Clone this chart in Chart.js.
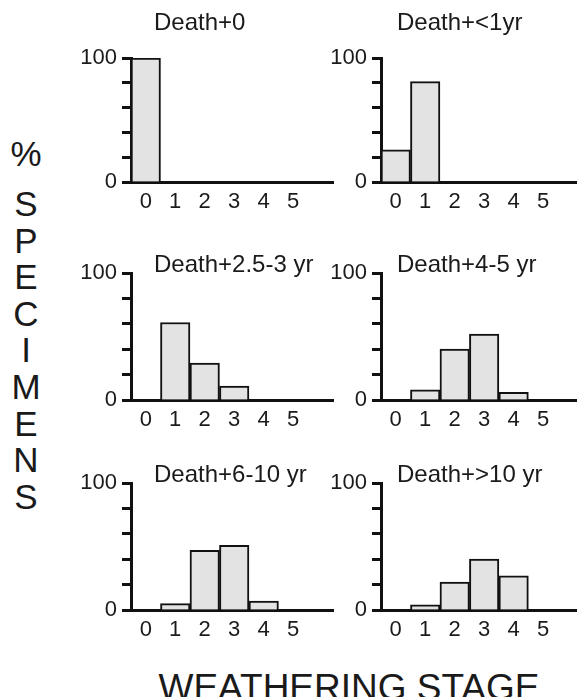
<!DOCTYPE html>
<html>
<head>
<meta charset="utf-8">
<title>Weathering stage by time since death</title>
<script src="https://cdn.jsdelivr.net/npm/chart.js@4.4.1/dist/chart.umd.min.js"></script>
<style>
  body { margin: 0; background: #fff; }
  #page {
    position: relative; width: 577px; height: 697px; overflow: hidden;
    font-family: "Liberation Sans", Arial, sans-serif; color: #1a1a1a;
  }
  #page canvas { position: absolute; }
  #yTitle {
    position: absolute; left: 8px; top: 121px; width: 36px;
    text-align: center; font-size: 35px; line-height: 36.6px;
  }
  #yTitle .pct { line-height: 65px; }
  #xTitle {
    position: absolute; left: 349px; top: 669px; transform: translateX(-50%);
    font-size: 37px; line-height: 37px; white-space: nowrap;
  }
</style>
</head>
<body>
<div id="page">
  <div id="yTitle"><div class="pct">%</div>S<br>P<br>E<br>C<br>I<br>M<br>E<br>N<br>S</div>
  <canvas id="c1" width="280" height="230" style="left:60px;top:0px"></canvas>
  <canvas id="c2" width="252" height="230" style="left:325px;top:0px"></canvas>
  <canvas id="c3" width="280" height="210" style="left:60px;top:230px"></canvas>
  <canvas id="c4" width="252" height="210" style="left:325px;top:230px"></canvas>
  <canvas id="c5" width="280" height="220" style="left:60px;top:440px"></canvas>
  <canvas id="c6" width="252" height="220" style="left:325px;top:440px"></canvas>
  <div id="xTitle">WEATHERING STAGE</div>
</div>
<script>
// weathering stages on the x axis
const stages = [0, 1, 2, 3, 4, 5];
const yTicks = [0, 100];

const titles = [
  "Death+0",
  "Death+<1yr",
  "Death+2.5-3 yr",
  "Death+4-5 yr",
  "Death+6-10 yr",
  "Death+>10 yr",
];

// % of specimens at each stage
const death0 = [100, 0, 0, 0, 0, 0];
const deathUnder1 = [26, 81, 0, 0, 0, 0];
const death2to3 = [0, 61, 29, 11, 0, 0];
const death4to5 = [0, 8, 40, 52, 6, 0];
const death6to10 = [0, 5, 47, 51, 7, 0];
const deathOver10 = [0, 4, 22, 40, 27, 0];

const seriesList = [death0, deathUnder1, death2to3, death4to5, death6to10, deathOver10];

Chart.defaults.font.family = "'Liberation Sans', Arial, sans-serif";
Chart.defaults.color = "#1a1a1a";

// panel title, left aligned just inside the plot
const panelTitle = {
  id: "panelTitle",
  afterDraw(chart, args, opts) {
    const { ctx, chartArea } = chart;
    ctx.save();
    ctx.font = "24px 'Liberation Sans', Arial, sans-serif";
    ctx.fillStyle = "#1a1a1a";
    ctx.textAlign = "left";
    ctx.textBaseline = "middle";
    ctx.fillText(opts.text, chartArea.left + opts.dx, chartArea.top - opts.dy);
    ctx.restore();
  },
};

const sides = {
  left: { axisWidth: 71, padRight: 7, xMax: 6.35, dx: 23 },
  right: { axisWidth: 56, padRight: 0, xMax: 6.15, dx: 16 },
};
const rows = [
  { padTop: 58, padBottom: 8, dy: 35 },
  { padTop: 43, padBottom: 0, dy: 8 },
  { padTop: 43, padBottom: 10, dy: 8 },
];

function makePanel(index) {
  const side = sides[index % 2 === 0 ? "left" : "right"];
  const row = rows[Math.floor(index / 2)];
  const values = seriesList[index];
  const ctx = document.getElementById("c" + (index + 1)).getContext("2d");

  return new Chart(ctx, {
    type: "bar",
    data: {
      datasets: [
        {
          data: values.map((v, i) => ({ x: stages[i], y: v })),
          backgroundColor: "#e3e3e3",
          borderColor: "#111",
          borderWidth: 2,
          barPercentage: 1,
          categoryPercentage: 1,
        },
      ],
    },
    plugins: [panelTitle],
    options: {
      responsive: false,
      animation: false,
      layout: {
        padding: { top: row.padTop, bottom: row.padBottom, left: 0, right: side.padRight },
      },
      scales: {
        x: {
          type: "linear",
          offset: false,
          min: -0.5,
          max: side.xMax,
          grid: { display: false, drawTicks: false, offset: false },
          border: { display: true, width: 3, color: "#111" },
          afterBuildTicks: (scale) => {
            scale.ticks = stages.map((v) => ({ value: v }));
          },
          afterFit: (scale) => {
            scale.height = 40;
          },
          ticks: {
            font: { size: 22 },
            padding: 7,
            maxRotation: 0,
            autoSkip: false,
          },
        },
        y: {
          min: 0,
          max: 100,
          grid: {
            drawOnChartArea: false,
            drawTicks: true,
            tickLength: 9,
            tickWidth: 3,
            tickColor: "#111",
          },
          border: { display: true, width: 3, color: "#111" },
          afterFit: (scale) => {
            scale.width = side.axisWidth;
          },
          ticks: {
            stepSize: 20,
            autoSkip: false,
            font: { size: 22 },
            padding: 5,
            callback: (v) => (yTicks.includes(v) ? v : ""),
          },
        },
      },
      plugins: {
        legend: { display: false },
        tooltip: { enabled: false },
        panelTitle: { text: titles[index], dx: side.dx, dy: row.dy },
      },
    },
  });
}

seriesList.forEach((s, i) => makePanel(i));
</script>
</body>
</html>
